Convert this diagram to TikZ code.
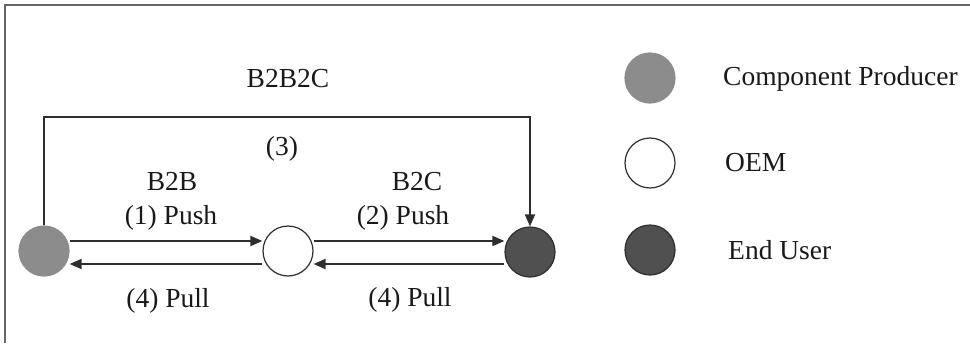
\documentclass[tikz,border=0pt]{standalone}
\usepackage{fontspec}
\setmainfont{Liberation Serif}
\usetikzlibrary{arrows.meta}
\definecolor{prodgray}{HTML}{8C8C8C}
\definecolor{endgray}{HTML}{505050}
\definecolor{linegray}{HTML}{2E2E2E}
\begin{document}
\begin{tikzpicture}[x=1pt,y=-1pt,
  actor/.style={circle,minimum size=50pt,inner sep=0pt,draw=linegray,line width=1.2pt},
  producer/.style={actor,fill=prodgray,draw=prodgray},
  oem/.style={actor,fill=white},
  enduser/.style={actor,fill=endgray},
  flow/.style={draw=linegray,line width=1.8pt,-{Triangle[length=12pt,width=10pt]}},
  lbl/.style={font=\fontsize{27.5}{30}\selectfont,anchor=base,inner sep=0pt,text=black!90},
  leg/.style={font=\fontsize{27.5}{30}\selectfont,anchor=base west,inner sep=0pt,text=black!90}]
\useasboundingbox (0,0) rectangle (970,343);
\draw[draw=black!60,line width=1.6pt] (5,343) -- (5,5) -- (970,5);
% actors
\node[producer] (p) at (44,251) {};
\node[oem] (o) at (288,251) {};
\node[enduser] (e) at (530,252) {};
% connectors
\coordinate (p1) at (44,241);
\coordinate (p2) at (44,264);
\path[flow] (p.east |- p1) -- (o.west |- p1);
\path[flow] (o.west |- p2) -- (p.east |- p2);
\path[flow] (o.east |- p1) -- (e.west |- p1);
\path[flow] (e.west |- p2) -- (o.east |- p2);
\coordinate (c1) at (44,117);
\coordinate (c2) at (530,117);
\path[flow] (p.north) -- (c1) -- (c2) -- (e.north);
% labels
\node[lbl] (t0) at (288,87) {B2B2C};
\node[lbl] (t3) at (282,155) {(3)};
\node[lbl] (t1) at (172,190) {B2B};
\node[lbl] (t2) at (171,224) {(1) Push};
\node[lbl] (t4) at (168,307) {(4) Pull};
\node[lbl] (t5) at (417,190) {B2C};
\node[lbl] (t6) at (403,224) {(2) Push};
\node[lbl] (t7) at (410,306) {(4) Pull};
% legend
\node[producer] (lp) at (650,78) {};
\node[oem] (lo) at (650,163) {};
\node[enduser] (le) at (650,250) {};
\node[leg] (lpt) at (723,85) {Component Producer};
\node[leg] (lot) at (725,171) {OEM};
\node[leg] (let) at (728,259) {End User};
\end{tikzpicture}
\end{document}
